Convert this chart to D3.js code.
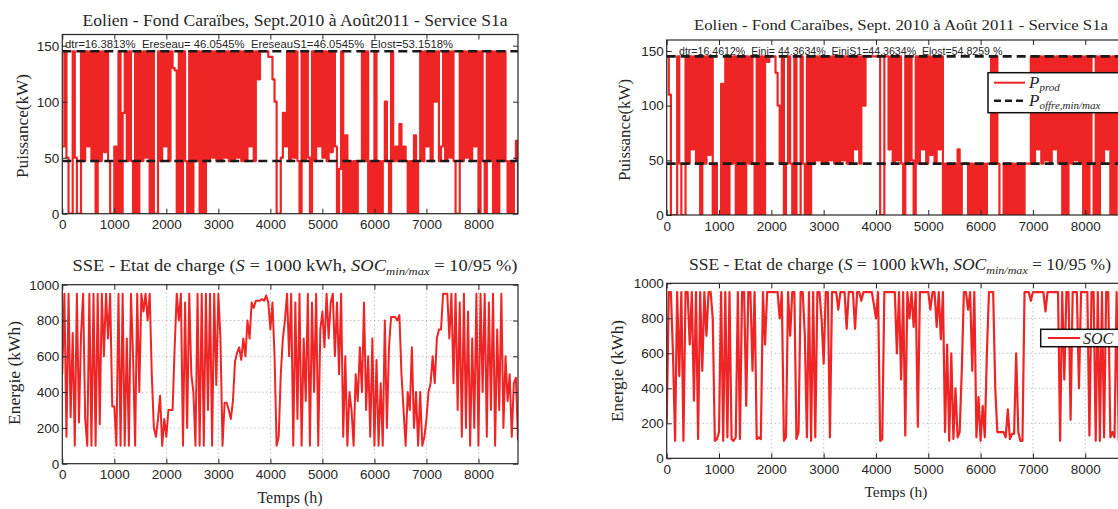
<!DOCTYPE html>
<html>
<head>
<meta charset="utf-8">
<script src="https://cdn.jsdelivr.net/npm/d3@7"></script>
<style>
  body { margin: 0; background: #fff; }
  svg { display: block; }
</style>
</head>
<body>
<script>
// ---------------- DATA ----------------
const stepHours = 40;               // sampling interval of the series (h)
const xTicks = [0, 1000, 2000, 3000, 4000, 5000, 6000, 7000, 8000];
const powerTicks = [0, 50, 100, 150];
const energyTicks = [0, 200, 400, 600, 800, 1000];
const offerMax = 145;               // P_offre max (kW)
const offerMin = 47;                // P_offre min (kW)

// P_prod, left case (kW), one value every 40 h
const prodLeft = [
  60,145,50,0,0,145,50,0,0,145,47,145,60,145,47,145,0,145,47,145,55,145,47,0,0,
  60,0,145,0,90,145,47,145,47,0,145,0,145,47,145,50,145,0,145,0,0,145,47,145,60,
  145,47,145,130,128,0,145,0,145,47,0,145,0,145,47,145,0,145,0,145,47,145,50,145,47,
  145,47,145,50,145,47,145,47,145,50,145,47,145,47,145,60,145,47,145,120,145,145,145,145,140,
  140,120,100,0,0,50,90,60,145,47,145,50,145,47,0,145,47,145,50,0,145,47,145,60,145,
  50,145,47,145,55,145,60,0,40,145,0,70,0,47,0,47,0,47,47,145,47,145,0,47,0,
  145,0,47,0,47,100,47,0,145,47,60,47,80,47,60,47,0,47,0,70,0,47,145,47,145,
  60,145,47,145,100,145,47,60,145,47,145,50,145,47,0,0,145,47,145,50,145,47,145,60,145,
  0,145,47,0,145,47,145,0,145,0,145,47,145,47,0,47,0,47,65,0
];

// P_prod, right case (kW)
const prodRight = [
  145,110,0,0,0,145,47,0,0,145,47,145,60,145,47,145,0,145,47,145,55,145,0,47,0,
  0,120,0,145,0,145,47,145,0,145,0,145,0,145,47,145,47,0,145,0,145,0,145,140,145,
  145,145,130,100,47,145,0,47,145,47,0,145,0,0,145,47,0,145,0,145,47,145,50,145,47,
  145,47,145,50,145,47,145,47,145,50,145,47,145,47,145,60,145,47,145,100,145,145,145,145,145,
  145,145,0,0,145,145,60,145,47,145,50,145,47,0,145,47,145,50,0,145,47,145,60,145,47,
  145,55,145,47,145,60,145,0,47,0,47,0,47,0,60,0,47,47,47,0,47,0,47,0,47,
  0,47,0,47,47,145,47,145,47,0,0,47,0,47,0,47,0,47,0,47,0,47,47,47,145,
  47,145,60,145,47,145,50,145,47,145,60,145,47,145,0,145,0,145,47,145,50,145,47,145,0,
  145,0,145,47,0,145,0,145,47,145,60,145,0,145,0,145,47,145,47,145
];

// SOC, left case (kWh)
const socLeft = [
  500,950,150,950,260,730,100,950,230,720,950,250,100,950,100,950,100,950,220,950,600,950,700,950,320,
  320,100,950,100,950,100,700,100,950,600,100,950,400,950,850,950,800,950,500,200,150,250,380,100,250,
  150,300,300,300,650,950,800,950,100,900,200,950,500,400,100,950,100,950,100,950,300,950,100,950,440,
  950,700,100,340,340,300,250,350,570,620,650,580,700,600,800,700,900,870,910,910,910,920,910,940,900,
  750,900,600,100,150,500,700,800,950,600,950,100,900,250,950,100,700,350,950,100,900,400,950,100,750,
  850,650,950,700,900,950,600,900,500,950,150,600,100,400,300,100,500,350,650,400,900,300,600,150,700,
  100,580,100,450,100,800,200,650,820,820,820,800,830,500,300,100,400,300,650,200,400,100,400,100,150,
  250,400,450,600,450,700,750,750,950,950,950,700,950,450,950,300,900,150,950,200,850,100,700,200,950,
  100,950,400,950,150,900,300,950,100,750,300,950,200,600,350,500,150,450,480,130
];

// SOC, right case (kWh)
const socRight = [
  200,950,950,600,100,950,470,950,100,950,950,650,950,330,950,110,950,500,950,700,950,950,800,100,110,
  150,950,100,950,120,950,110,100,120,950,110,950,950,300,950,950,500,950,110,120,110,950,650,950,950,
  950,950,950,950,800,950,100,120,950,700,950,950,110,150,950,950,700,120,950,100,950,120,950,950,800,
  540,950,950,120,950,950,950,850,950,950,950,740,950,950,950,740,950,950,900,950,950,950,950,950,880,
  800,950,100,110,950,950,950,950,950,950,600,950,450,950,130,950,800,950,750,950,180,950,950,950,950,
  950,850,950,950,750,950,680,950,150,650,100,600,110,400,120,150,500,950,950,850,950,500,950,120,350,
  100,300,120,600,950,950,950,400,150,150,150,150,120,280,110,140,140,600,150,100,100,950,950,950,900,
  950,950,950,950,950,950,840,950,950,950,950,950,950,100,950,450,950,950,220,950,950,950,400,950,950,
  950,950,130,950,950,100,950,100,950,120,950,950,120,150,120,950,100,950,950,950
];

// ---------------- DRAWING ----------------
const W = 1118, H = 509;
const RED = "#ee2524";
const INK = "#262626";
const SANS = "'Liberation Sans', Arial, sans-serif";
const SERIF = "'Liberation Serif', 'DejaVu Serif', serif";

const svg = d3.select("body").append("svg")
  .attr("width", W).attr("height", H)
  .attr("viewBox", `0 0 ${W} ${H}`);
svg.append("rect").attr("width", W).attr("height", H).attr("fill", "#fff");

const panels = [
  { id: "tl", left: 62.3, right: 518, top: 34.5, bottom: 213.7, yMax: 160, yTicks: powerTicks, data: prodLeft, grid: false, offer: true, lw: 2.2, curve: d3.curveStepAfter },
  { id: "tr", left: 666.7, right: 1125, top: 40, bottom: 215, yMax: 160, yTicks: powerTicks, data: prodRight, grid: false, offer: true, lw: 2.2, curve: d3.curveStepAfter },
  { id: "bl", left: 62.3, right: 518, top: 284.7, bottom: 463.7, yMax: 1000, yTicks: energyTicks, data: socLeft, grid: true, offer: false, lw: 2, curve: d3.curveLinear },
  { id: "br", left: 666.7, right: 1125, top: 283.3, bottom: 458.3, yMax: 1000, yTicks: energyTicks, data: socRight, grid: true, offer: false, lw: 2.2, curve: d3.curveLinear }
];

panels.forEach(p => {
  const x = d3.scaleLinear().domain([0, 8760]).range([p.left, p.right]);
  const y = d3.scaleLinear().domain([0, p.yMax]).range([p.bottom, p.top]);
  const g = svg.append("g").attr("class", "panel-" + p.id);

  const clipId = "clip-" + p.id;
  svg.append("clipPath").attr("id", clipId)
    .append("rect").attr("x", p.left).attr("y", p.top)
    .attr("width", p.right - p.left).attr("height", p.bottom - p.top);

  // grid
  if (p.grid) {
    const gg = g.append("g").attr("class", "grid");
    gg.selectAll("line.gx").data(xTicks.filter(t => t > 0)).join("line")
      .attr("x1", d => x(d)).attr("x2", d => x(d))
      .attr("y1", p.top).attr("y2", p.bottom)
      .attr("stroke", "#8c8c8c").attr("stroke-width", 0.8).attr("stroke-dasharray", "1,3");
    gg.selectAll("line.gy").data(p.yTicks.filter(t => t > 0 && t < p.yMax)).join("line")
      .attr("x1", p.left).attr("x2", p.right)
      .attr("y1", d => y(d)).attr("y2", d => y(d))
      .attr("stroke", "#8c8c8c").attr("stroke-width", 0.8).attr("stroke-dasharray", "1,3");
  }

  // series
  const line = d3.line().curve(p.curve).x((d, i) => x(i * stepHours)).y(d => y(d));
  g.append("path").datum(p.data)
    .attr("clip-path", `url(#${clipId})`)
    .attr("d", line)
    .attr("fill", "none").attr("stroke", RED)
    .attr("stroke-width", p.lw).attr("stroke-linejoin", "round");

  // offer limits
  if (p.offer) {
    g.selectAll("line.offer").data([offerMax, offerMin]).join("line")
      .attr("clip-path", `url(#${clipId})`)
      .attr("x1", p.left).attr("x2", p.right)
      .attr("y1", d => y(d)).attr("y2", d => y(d))
      .attr("stroke", "#1a1a1a").attr("stroke-width", 2.6)
      .attr("stroke-dasharray", "9,5");
  }

  // box
  g.append("rect").attr("x", p.left).attr("y", p.top)
    .attr("width", p.right - p.left).attr("height", p.bottom - p.top)
    .attr("fill", "none").attr("stroke", INK).attr("stroke-width", 1.2);

  // axes with inward ticks
  const fmt = d3.format("d");
  const axB = d3.axisBottom(x).tickValues(xTicks).tickFormat(fmt).tickSizeInner(-5).tickSizeOuter(0).tickPadding(6);
  const axT = d3.axisTop(x).tickValues(xTicks).tickSizeInner(-5).tickSizeOuter(0).tickFormat("");
  const axL = d3.axisLeft(y).tickValues(p.yTicks).tickFormat(fmt).tickSizeInner(-5).tickSizeOuter(0).tickPadding(3);
  const axR = d3.axisRight(y).tickValues(p.yTicks).tickSizeInner(-5).tickSizeOuter(0).tickFormat("");

  const style = sel => {
    sel.select(".domain").remove();
    sel.selectAll(".tick line").attr("stroke", INK).attr("stroke-width", 1);
    sel.selectAll("text").attr("fill", INK).style("font-family", SANS).style("font-size", "13.5px");
  };
  g.append("g").attr("transform", `translate(0,${p.bottom})`).call(axB).call(style);
  g.append("g").attr("transform", `translate(0,${p.top})`).call(axT).call(style);
  g.append("g").attr("transform", `translate(${p.left},0)`).call(axL).call(style);
  g.append("g").attr("transform", `translate(${p.right},0)`).call(axR).call(style);
});

// ---------------- TEXTS ----------------
function serifText(x, y, size, anchor) {
  return svg.append("text").attr("x", x).attr("y", y)
    .attr("text-anchor", anchor || "middle")
    .style("font-family", SERIF).style("font-size", size + "px").attr("fill", INK);
}

// titles
serifText(295, 26, 16).attr("textLength", 425).attr("lengthAdjust", "spacingAndGlyphs")
  .text("Eolien - Fond Caraïbes, Sept.2010 à Août2011 - Service S1a");
serifText(901, 30, 15.5).attr("textLength", 414).attr("lengthAdjust", "spacingAndGlyphs")
  .text("Eolien - Fond Caraïbes, Sept. 2010 à Août 2011 - Service S1a");

function socTitle(xc, yb, len) {
  const t = serifText(xc, yb, 16).attr("textLength", len).attr("lengthAdjust", "spacingAndGlyphs");
  t.append("tspan").text("SSE - Etat de charge (");
  t.append("tspan").style("font-style", "italic").text("S");
  t.append("tspan").text(" = 1000 kWh, ");
  t.append("tspan").style("font-style", "italic").text("SOC");
  t.append("tspan").style("font-style", "italic").style("font-size", "11px").attr("dy", 4).text("min/max");
  t.append("tspan").attr("dy", -4).text(" = 10/95 %)");
}
socTitle(295, 271, 445);
socTitle(900, 270, 422);

// y labels
function yLabel(x, y, txt, len) {
  svg.append("text").attr("transform", `translate(${x},${y}) rotate(-90)`)
    .attr("text-anchor", "middle")
    .attr("textLength", len).attr("lengthAdjust", "spacingAndGlyphs")
    .style("font-family", SERIF).style("font-size", "16px").attr("fill", INK)
    .text(txt);
}
yLabel(28, 126, "Puissance(kW)", 104);
yLabel(630, 130, "Puissance(kW)", 102);
yLabel(20, 373, "Energie (kWh)", 104);
yLabel(623, 371, "Energie (kWh)", 102);

// x labels
serifText(290, 503, 16).text("Temps (h)");
serifText(896, 497, 15.5).text("Temps (h)");

// annotations
svg.append("text").attr("x", 65).attr("y", 47.5)
  .style("font-family", SANS).style("font-size", "11.3px").attr("fill", INK)
  .attr("xml:space", "preserve")
  .text("dtr=16.3813%  Ereseau= 46.0545%  EreseauS1=46.0545%  Elost=53.1518%");
svg.append("text").attr("x", 679).attr("y", 54.5)
  .style("font-family", SANS).style("font-size", "10.6px").attr("fill", INK)
  .attr("xml:space", "preserve")
  .text("dtr=16.4612%  Einj= 44.3634%  EinjS1=44.3634%  Elost=54.8259 %");

// ---------------- LEGENDS ----------------
// top-right legend
const lg1 = svg.append("g");
lg1.append("rect").attr("x", 988).attr("y", 72.7).attr("width", 160).attr("height", 40)
  .attr("fill", "#fff").attr("stroke", "#111").attr("stroke-width", 1.5);
lg1.append("line").attr("x1", 994).attr("x2", 1025).attr("y1", 82.7).attr("y2", 82.7)
  .attr("stroke", RED).attr("stroke-width", 2);
lg1.append("line").attr("x1", 994).attr("x2", 1025).attr("y1", 100.7).attr("y2", 100.7)
  .attr("stroke", "#1a1a1a").attr("stroke-width", 2.6).attr("stroke-dasharray", "7,4");
const l1 = lg1.append("text").attr("x", 1029).attr("y", 88)
  .style("font-family", SERIF).style("font-size", "17px").style("font-style", "italic").attr("fill", INK);
l1.append("tspan").text("P");
l1.append("tspan").attr("dy", 3).style("font-size", "11px").text("prod");
const l2 = lg1.append("text").attr("x", 1029).attr("y", 106)
  .style("font-family", SERIF).style("font-size", "17px").style("font-style", "italic").attr("fill", INK);
l2.append("tspan").text("P");
l2.append("tspan").attr("dy", 3).style("font-size", "11px").text("offre,min/max");

// bottom-right legend
const lg2 = svg.append("g");
lg2.append("rect").attr("x", 1040.7).attr("y", 329.3).attr("width", 120).attr("height", 17.4)
  .attr("fill", "#fff").attr("stroke", "#111").attr("stroke-width", 1.5);
lg2.append("line").attr("x1", 1048).attr("x2", 1080).attr("y1", 338).attr("y2", 338)
  .attr("stroke", RED).attr("stroke-width", 2);
lg2.append("text").attr("x", 1083).attr("y", 343.5)
  .style("font-family", SERIF).style("font-size", "16px").style("font-style", "italic").attr("fill", INK)
  .text("SOC");
</script>
</body>
</html>
